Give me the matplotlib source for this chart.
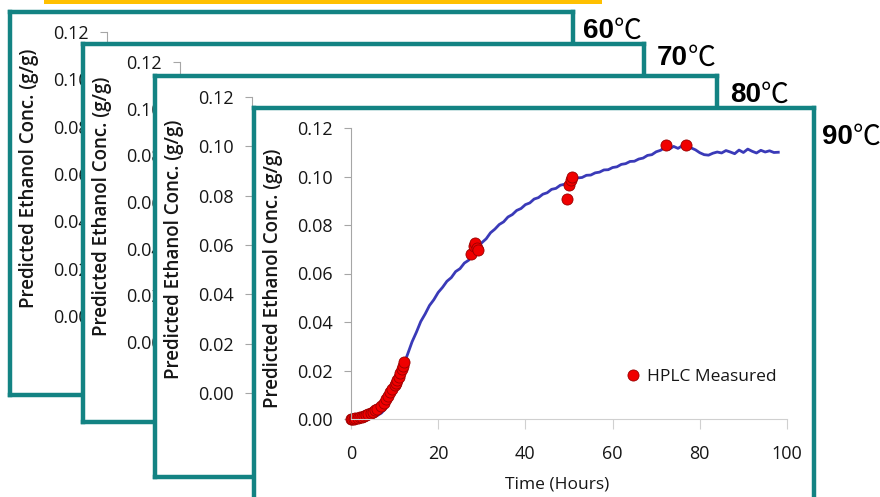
import matplotlib
matplotlib.use("Agg")
import matplotlib.pyplot as plt
from matplotlib.patches import Rectangle
from matplotlib.text import Annotation

plt.rcParams["font.family"] = ["Open Sans", "DejaVu Sans"]

# predicted ethanol conc. at 90C, every hour
pred_t = list(range(0, 99))
pred_c = [0.0000, 0.0000, 0.0001, 0.0002, 0.0004, 0.0008, 0.0014, 0.0025, 0.0045, 0.0075,
          0.0115, 0.0165, 0.0220, 0.0268, 0.0318, 0.0358, 0.0402, 0.0433, 0.0468, 0.0492,
          0.0522, 0.0543, 0.0568, 0.0583, 0.0608, 0.0620, 0.0643, 0.0655, 0.0682, 0.0703,
          0.0727, 0.0743, 0.0768, 0.0783, 0.0802, 0.0813, 0.0833, 0.0843, 0.0860, 0.0868,
          0.0884, 0.0891, 0.0907, 0.0913, 0.0927, 0.0933, 0.0947, 0.0951, 0.0964, 0.0968,
          0.0980, 0.0983, 0.0994, 0.0996, 0.1005, 0.1006, 0.1015, 0.1018, 0.1027, 0.1028,
          0.1037, 0.1040, 0.1050, 0.1053, 0.1062, 0.1063, 0.1072, 0.1076, 0.1087, 0.1090,
          0.1102, 0.1108, 0.1120, 0.1113, 0.1124, 0.1116, 0.1127, 0.1126, 0.1118, 0.1110,
          0.1098, 0.1090, 0.1088, 0.1096, 0.1101, 0.1097, 0.1107, 0.1101, 0.1094, 0.1109,
          0.1099, 0.1113, 0.1104, 0.1097, 0.1108, 0.1101, 0.1106, 0.1099, 0.1100]

# HPLC measurements
hplc_t = [0, 0.3, 0.7, 1, 1.5, 2, 2.5, 3, 3.5, 4, 4.5, 5, 5.5, 6, 6.9, 7.5, 8, 8.5, 9,
          9.5, 10, 10.3, 10.6, 11, 11.3, 11.6, 12, 12.2,
          27.5, 28.2, 28.4, 28.8, 29.1,
          49.5, 50.0, 50.4, 50.7,
          72.2, 76.8]
hplc_c = [0.0, 0.0, 0.0002, 0.0003, 0.0005, 0.0007, 0.0010, 0.0013, 0.0017, 0.0020,
          0.0025, 0.0030, 0.0036, 0.0043, 0.0055, 0.0068, 0.0082, 0.0096, 0.0110,
          0.0125, 0.0140, 0.0150, 0.0160, 0.0175, 0.0190, 0.0205, 0.0220, 0.0235,
          0.0680, 0.0715, 0.0725, 0.0705, 0.0696,
          0.0907, 0.0965, 0.0985, 0.0998,
          0.1128, 0.1128]

temps = ["60", "70", "80", "90"]
yticks = [0.00, 0.02, 0.04, 0.06, 0.08, 0.10, 0.12]
xticks = [0, 20, 40, 60, 80, 100]

W, H = 880, 497
# frame (l, t, r, b) and plot area (x0, y_top, y_bottom) in pixels
frames = [(10, 12, 573, 395), (83, 44, 644, 422), (155, 76, 717, 477), (254, 108, 814, 515)]
areas = [(107, 32, 316), (180, 62, 342), (252, 97, 393), (351, 128, 419)]
tlabels = [(583, 31), (657, 58), (730, 95), (822, 137)]
AW = 436
teal = "#138383"
txt = "#161616"


def rect(l, t, r, b):
    return [l / W, 1 - b / H, (r - l) / W, (b - t) / H]


fig = plt.figure(figsize=(W / 100, H / 100), dpi=100)
fig.add_artist(Rectangle((44 / W, 1 - 4 / H), (602 - 44) / W, 4 / H,
                         transform=fig.transFigure, color="#FFC000", lw=0))

for k in range(4):
    fr = fig.add_axes(rect(*frames[k]))
    fr.set_zorder(10 * k)
    fr.set_facecolor("white")
    fr.set_xticks([]); fr.set_yticks([])
    for s in fr.spines.values():
        s.set_color(teal); s.set_linewidth(3.2)

    x0, yt, yb = areas[k]
    ax = fig.add_axes(rect(x0, yt, x0 + AW, yb))
    ax.set_zorder(10 * k + 1)
    ax.patch.set_alpha(0)
    ax.set_xlim(0, 100); ax.set_ylim(0, 0.12)
    ax.set_yticks(yticks); ax.set_xticks(xticks)
    ax.set_yticklabels([f"{v:.2f}" for v in yticks])
    ax.spines["top"].set_visible(False); ax.spines["right"].set_visible(False)
    ax.spines["left"].set_color("#a6a6a6"); ax.spines["bottom"].set_color("#d0d0d0")
    ax.tick_params(axis="y", length=5, color="#a6a6a6", pad=8, labelsize=13, labelcolor=txt)
    ax.tick_params(axis="x", length=7, color="#d0d0d0", pad=12, labelsize=13, labelcolor=txt)
    ax.set_ylabel("Predicted Ethanol Conc. (g/g)", fontsize=13.5, fontweight="semibold", color=txt)
    ax.yaxis.set_label_coords(-0.156, 0.485)

    if k < 3:
        ax.set_xticklabels([])
        continue

    ax.set_xlabel("Time (Hours)", fontsize=12.5, color=txt)
    ax.xaxis.set_label_coords(0.472, -0.196)
    ax.plot(pred_t, pred_c, color="#3a3ab8", lw=2.0, clip_on=False)
    ax.plot(hplc_t, hplc_c, "o", ms=8, color="#f00000", mec="#9a0000", mew=0.6,
            clip_on=False, label="HPLC Measured")
    ax.legend(loc="center right", bbox_to_anchor=(0.977, 0.144), frameon=False,
              borderpad=0, borderaxespad=0, handletextpad=0.3, fontsize=12.5,
              handlelength=1.0, labelcolor=txt)

for k in range(4):
    tx, ty = tlabels[k]
    t1 = fig.text(tx / W, 1 - ty / H, temps[k], fontsize=20, fontweight="bold",
                  family="Liberation Sans", va="center", ha="left", zorder=100)
    fig.add_artist(Annotation("\u2103", xy=(1, 0.5), xycoords=t1, va="center", ha="left",
                              fontsize=20, family=["Noto Sans CJK JP", "DejaVu Sans"],
                              zorder=100))

fig.savefig("out.png", dpi=100)
